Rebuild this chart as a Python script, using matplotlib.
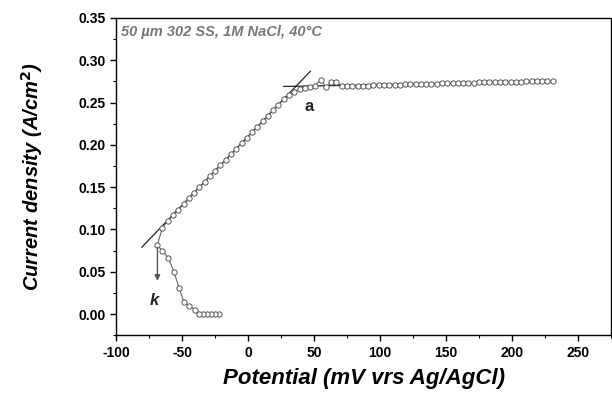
import matplotlib
matplotlib.use('Agg')
import matplotlib.pyplot as plt
from matplotlib.ticker import MultipleLocator

plt.rcParams['font.family'] = ['Liberation Sans', 'DejaVu Sans']
plt.rcParams['axes.unicode_minus'] = False

# reverse branch (k), from the zero end back up to the knee
back_x = [-22, -25, -28, -31, -34, -37, -40.5, -44.8, -48.7, -52.4, -56.3, -60.5, -65, -69]
back_y = [0.0, 0.0, 0.0, 0.0, 0.0, 0.0, 0.005, 0.010, 0.014, 0.031, 0.050, 0.066, 0.075, 0.081]

# forward sweep
fwd_x = [-65, -61, -57, -53, -49, -45, -41, -37, -33, -29, -25, -21, -17, -13, -9, -5, -1,
         3, 7, 11, 15, 19, 23, 27, 31, 35, 39, 43, 47, 51, 55, 59, 63, 67, 71,
         75, 79, 83, 87, 91, 95, 99, 103, 107, 111,
         115, 119, 123, 127, 131, 135, 139, 143, 147, 151,
         155, 159, 163, 167, 171, 175, 179, 183, 187, 191,
         195, 199, 203, 207, 211, 215, 219, 223, 227, 231]
fwd_y = [0.102, 0.110, 0.117, 0.123, 0.130, 0.137, 0.143, 0.150, 0.156, 0.163, 0.169, 0.176,
         0.182, 0.189, 0.195, 0.202, 0.208, 0.215, 0.221, 0.228, 0.234, 0.241, 0.247, 0.254,
         0.259, 0.263, 0.266, 0.267, 0.268, 0.270, 0.277, 0.268, 0.274, 0.274, 0.270,
         0.270, 0.270, 0.270, 0.270, 0.270, 0.271, 0.271, 0.271, 0.271, 0.271,
         0.271, 0.272, 0.272, 0.272, 0.272, 0.272, 0.272, 0.272, 0.273, 0.273,
         0.273, 0.273, 0.273, 0.273, 0.273, 0.274, 0.274, 0.274, 0.274, 0.274,
         0.274, 0.274, 0.274, 0.274, 0.275, 0.275, 0.275, 0.275, 0.275, 0.275]

# tangent lines
slope_x = [-80.6, 47.2]
slope_y = [0.079, 0.287]
flat_x = [27, 232]
flat_y = [0.269, 0.2745]

x = back_x + fwd_x
y = back_y + fwd_y

fig = plt.figure(figsize=(6.12, 3.99), dpi=100)
ax = fig.add_axes([0.19, 0.16, 0.808, 0.795])

ax.plot(slope_x, slope_y, color='#222222', lw=0.9)
ax.plot(flat_x, flat_y, color='#222222', lw=0.9)
ax.plot(x, y, color='#666666', lw=0.8, marker='o', ms=3.8, mfc='white',
        mec='#555555', mew=0.7)

ax.annotate('', xy=(-68.8, 0.036), xytext=(-68.8, 0.082),
            arrowprops=dict(arrowstyle='-|>', color='#555555', lw=1.0,
                            mutation_scale=8))
ax.text(-71, 0.016, 'k', fontsize=12, fontweight='bold', fontstyle='italic',
        ha='center', va='center', color='#222222')
ax.text(46, 0.245, 'a', fontsize=12, fontweight='bold',
        ha='center', va='center', color='#222222')
ax.text(-96.5, 0.333, '50 µm 302 SS, 1M NaCl, 40°C', fontsize=10.5, fontweight='bold',
        fontstyle='italic', ha='left', va='center', color='#777777')

ax.set_xlim(-100, 275)
ax.set_ylim(-0.025, 0.35)
ax.xaxis.set_major_locator(MultipleLocator(50))
ax.xaxis.set_minor_locator(MultipleLocator(25))
ax.yaxis.set_minor_locator(MultipleLocator(0.025))
ax.set_yticks([0.0, 0.05, 0.10, 0.15, 0.20, 0.25, 0.30, 0.35])
ax.set_yticklabels(['0.00', '0.05', '0.10', '0.15', '0.20', '0.25', '0.30', '0.35'])
ax.tick_params(which='major', direction='out', length=4, width=1, labelsize=10)
ax.tick_params(which='minor', direction='out', length=2.5, width=0.8)
for lbl in ax.get_xticklabels() + ax.get_yticklabels():
    lbl.set_fontweight('bold')
for sp in ax.spines.values():
    sp.set_linewidth(1.0)

ax.set_xlabel('Potential (mV vrs Ag/AgCl)', fontsize=16, fontweight='bold',
              fontstyle='italic', labelpad=6)
ax.set_ylabel('Current density (A/cm$^\\mathbf{2}$)', fontsize=14.5, fontweight='bold',
              fontstyle='italic', labelpad=24)

fig.savefig('out.png', dpi=100)
